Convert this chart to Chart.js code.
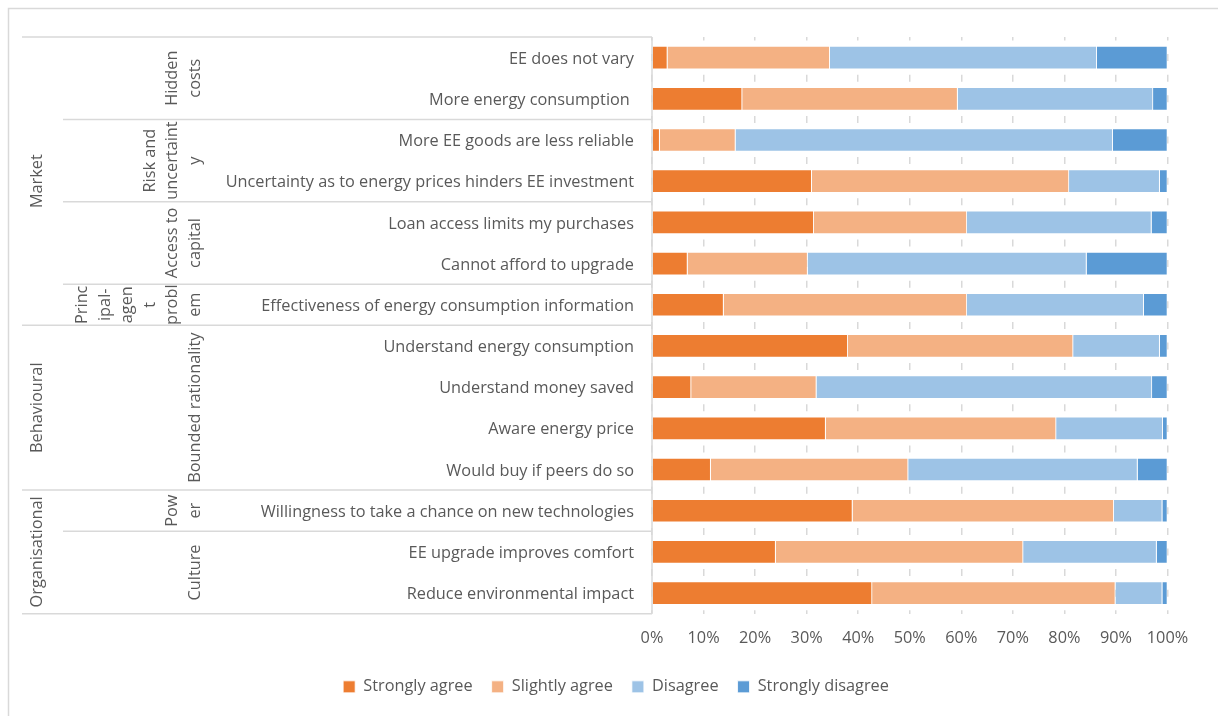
<!DOCTYPE html>
<html>
<head>
<meta charset="utf-8">
<script src="https://cdn.jsdelivr.net/npm/chart.js@4.4.1/dist/chart.umd.min.js"></script>
<style>
  html, body { margin: 0; padding: 0; background: #fff; }
  #wrap { width: 1218px; height: 716px; position: relative; }
</style>
</head>
<body>
<div id="wrap"><canvas id="barriers"></canvas></div>
<script>
// Survey statements, top to bottom
const statements = [
  'EE does not vary',
  'More energy consumption ',
  'More EE goods are less reliable',
  'Uncertainty as to energy prices hinders EE investment',
  'Loan access limits my purchases',
  'Cannot afford to upgrade',
  'Effectiveness of energy consumption information',
  'Understand energy consumption',
  'Understand money saved',
  'Aware energy price',
  'Would buy if peers do so',
  'Willingness to take a chance on new technologies',
  'EE upgrade improves comfort',
  'Reduce environmental impact'
];

// Share of answers (%)
const stronglyAgree    = [3.0, 17.5, 1.5, 31.0, 31.4, 6.9, 13.9, 38.0, 7.6, 33.7, 11.4, 38.9, 24.0, 42.7];
const slightlyAgree    = [31.5, 41.8, 14.7, 49.9, 29.7, 23.3, 47.2, 43.7, 24.3, 44.7, 38.3, 50.7, 48.0, 47.2];
const disagree         = [51.8, 37.9, 73.2, 17.6, 35.8, 54.1, 34.3, 16.8, 65.1, 20.7, 44.5, 9.4, 25.9, 9.1];
const stronglyDisagree = [13.7, 2.8, 10.6, 1.5, 3.1, 15.7, 4.6, 1.5, 3.0, 0.9, 5.8, 1.0, 2.1, 1.0];

const answerNames  = ['Strongly agree', 'Slightly agree', 'Disagree', 'Strongly disagree'];
const answerColors = ['#ED7D31', '#F4B183', '#9DC3E6', '#5B9BD5'];

// Outer grouping (barrier type) and inner grouping (barrier), as row counts
const barrierTypes = [
  { name: 'Market', rows: 7 },
  { name: 'Behavioural', rows: 4 },
  { name: 'Organisational', rows: 3 }
];
const barrierNames = [
  { lines: ['Hidden', 'costs'], rows: 2 },
  { lines: ['Risk and', 'uncertaint', 'y'], rows: 2 },
  { lines: ['Access to', 'capital'], rows: 2 },
  { lines: ['Princ', 'ipal-', 'agen', 't', 'probl', 'em'], rows: 1 },
  { lines: ['Bounded rationality'], rows: 4 },
  { lines: ['Pow', 'er'], rows: 1 },
  { lines: ['Culture'], rows: 2 }
];

const textColor = '#595959';
const lineColor = '#d9d9d9';
const FONT = '"Open Sans"';
const FSIZE = 16.3;

// draws the frame, the axis line and the two outer category levels
const groupAxis = {
  id: 'groupAxis',
  afterDraw(chart) {
    const { ctx, chartArea, scales: { y } } = chart;
    const step = y.getPixelForValue(1) - y.getPixelForValue(0);
    const rowTop = i => y.getPixelForValue(i) - step / 2;
    const axisX = chartArea.left;

    ctx.save();
    ctx.strokeStyle = lineColor;
    ctx.lineWidth = 1.5;
    ctx.strokeRect(8.5, 8.5, chart.width + 10, chart.height + 10);

    const hline = (yy, x0) => {
      ctx.beginPath(); ctx.moveTo(x0, yy); ctx.lineTo(axisX, yy); ctx.stroke();
    };
    ctx.beginPath();
    ctx.moveTo(axisX, chartArea.top); ctx.lineTo(axisX, chartArea.bottom);
    ctx.stroke();

    const typeEdges = [0];
    let r = 0;
    hline(rowTop(0), 22);
    barrierTypes.forEach(t => { r += t.rows; typeEdges.push(r); hline(rowTop(r), 22); });
    r = 0;
    barrierNames.forEach(b => {
      r += b.rows;
      if (!typeEdges.includes(r)) hline(rowTop(r), 63);
    });

    ctx.fillStyle = textColor;
    ctx.font = `${FSIZE}px ${FONT}`;
    ctx.textAlign = 'center';
    ctx.textBaseline = 'middle';
    const vtext = (lines, lastX, midY) => {
      ctx.save();
      ctx.rotate(-Math.PI / 2);
      lines.forEach((t, k) => {
        ctx.fillText(t, -midY, lastX - (lines.length - 1 - k) * 22.5);
      });
      ctx.restore();
    };
    r = 0;
    barrierTypes.forEach(t => {
      vtext([t.name], 37, (rowTop(r) + rowTop(r + t.rows)) / 2);
      r += t.rows;
    });
    r = 0;
    barrierNames.forEach(b => {
      vtext(b.lines, 195, (rowTop(r) + rowTop(r + b.rows)) / 2);
      r += b.rows;
    });
    ctx.restore();
  }
};

const series = [stronglyAgree, slightlyAgree, disagree, stronglyDisagree];

new Chart(document.getElementById('barriers'), {
  type: 'bar',
  data: {
    labels: statements,
    datasets: series.map((vals, i) => ({
      label: answerNames[i],
      data: vals,
      backgroundColor: answerColors[i],
      borderColor: '#ffffff',
      borderWidth: 0.8,
      barPercentage: 0.565,
      categoryPercentage: 1
    }))
  },
  options: {
    indexAxis: 'y',
    animation: false,
    responsive: true,
    maintainAspectRatio: false,
    devicePixelRatio: 1,
    layout: { padding: { top: 37, right: 50.5, bottom: 11, left: 64.5 } },
    plugins: {
      tooltip: { enabled: false },
      legend: {
        position: 'bottom',
        labels: {
          color: textColor,
          font: { family: FONT, size: FSIZE },
          boxWidth: 12,
          boxHeight: 12,
          padding: 19
        }
      }
    },
    scales: {
      x: {
        stacked: true,
        min: 0,
        max: 100,
        ticks: {
          stepSize: 10,
          callback: v => v + '%',
          color: textColor,
          font: { family: FONT, size: FSIZE },
          padding: 15
        },
        grid: { color: lineColor, lineWidth: 1.5, drawTicks: false },
        border: { display: false, dash: [7, 13.6], dashOffset: 3.5 },
        afterFit: s => { s.height = 46; }
      },
      y: {
        stacked: true,
        ticks: {
          autoSkip: false,
          color: textColor,
          font: { family: FONT, size: FSIZE },
          padding: 18,
          labelOffset: 1.5
        },
        grid: { display: false, drawTicks: false },
        border: { display: false },
        afterFit: s => { s.width = 587.5; }
      }
    }
  },
  plugins: [groupAxis]
});
</script>
</body>
</html>
